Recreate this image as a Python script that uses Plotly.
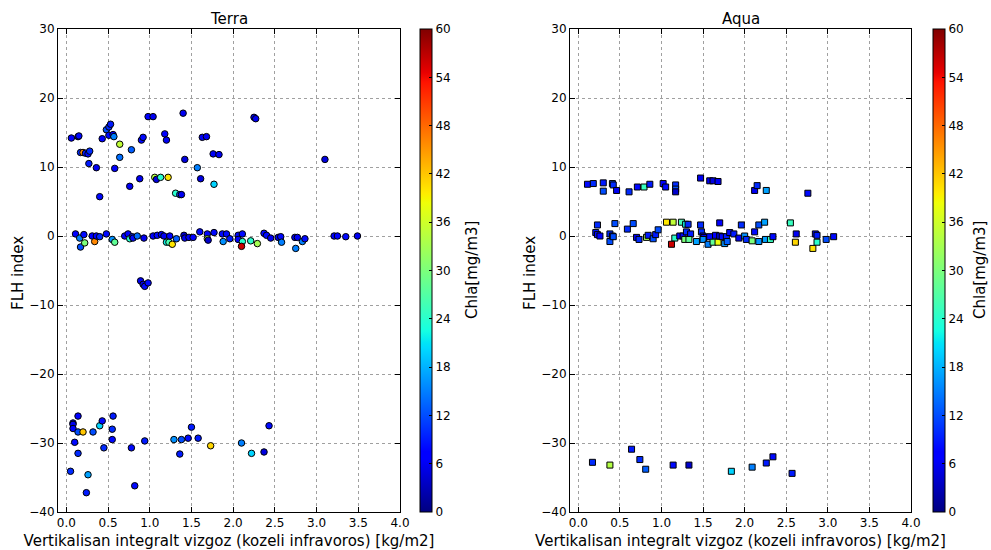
import plotly.graph_objects as go
import numpy as np

# ---------------- data ----------------
terra_x = [0.06,0.14,0.15,0.17,0.20,0.23,0.26,0.28,0.27,0.36,0.40,0.43,0.48,0.51,0.53,0.51,0.56,0.57,0.58,0.64,0.64,0.78,0.76,0.88,0.90,0.92,0.98,1.04,1.06,1.08,1.13,1.22,1.18,1.20,1.31,1.36,1.38,1.40,1.42,1.57,1.61,1.63,1.68,1.76,1.83,1.77,2.25,2.27,3.10,
           0.11,0.16,0.17,0.21,0.22,0.31,0.34,0.36,0.40,0.48,0.55,0.58,0.70,0.74,0.76,0.79,0.80,0.85,0.93,1.04,1.09,1.14,1.17,1.20,1.23,1.27,1.24,1.32,1.41,1.42,1.47,1.52,1.60,1.69,1.69,1.70,1.77,1.87,1.92,1.88,1.96,2.06,2.06,2.11,2.11,2.10,2.21,2.29,2.37,2.40,2.45,2.54,2.57,2.58,2.74,2.77,2.75,2.83,2.86,3.21,3.25,3.35,3.49,
           0.89,0.92,0.94,0.98,
           0.14,0.08,0.08,0.08,0.14,0.20,0.32,0.40,0.43,0.10,0.14,0.45,0.05,0.26,0.24,0.56,0.55,0.55,0.78,0.82,0.94,1.29,1.38,1.36,1.46,1.50,1.58,1.73,2.10,2.22,2.37,2.43]
terra_y = [14.2,14.4,14.5,12.1,12.1,12.0,11.9,12.3,10.5,9.9,5.7,14.1,15.4,15.8,16.2,14.6,14.7,14.4,9.8,13.3,11.4,12.5,7.2,8.3,13.9,14.3,17.3,17.3,8.5,8.2,8.5,8.5,14.8,13.9,6.2,6.0,6.0,17.8,11.1,9.9,8.3,14.3,14.4,11.9,11.8,7.5,17.2,17.0,11.1,
           0.3,-0.3,-1.6,0.2,-1.0,0.0,-0.8,0.0,-0.1,0.3,-0.5,-0.9,0.0,0.3,-0.4,-0.1,-0.3,0.0,-0.3,0.0,0.1,0.2,0.0,-0.9,-0.9,-1.2,0.0,-0.4,0.1,-0.3,-0.2,-0.2,0.6,0.3,-0.4,-0.6,0.5,0.3,0.3,-0.8,-0.4,0.1,-0.5,0.3,-0.8,-1.5,-0.7,-1.1,0.4,0.1,-0.3,-0.2,-0.1,-0.9,-0.2,-0.2,-1.8,-0.8,-0.4,0.0,0.0,-0.1,0.0,
           -6.5,-7.0,-7.3,-6.8,
           -26.1,-27.1,-27.3,-27.9,-28.4,-28.4,-28.4,-27.5,-26.8,-29.9,-31.5,-30.7,-34.1,-34.6,-37.2,-26.1,-28.0,-29.5,-30.7,-36.2,-29.7,-29.5,-29.5,-31.6,-29.3,-27.7,-29.3,-30.4,-30.0,-31.5,-31.3,-27.5]
terra_c = [7,6,8,10,46,9,8,10,9,6,8,7,12,10,9,8,7,15,7,35,14,13,6,6,8,8,7,6,34,5,24,40,7,6,24,12,6,6,5,15,5,6,6,6,6,20,6,6,5,
           7,15,12,8,30,7,46,7,10,8,16,28,7,7,24,10,8,14,6,7,8,7,6,22,26,40,7,13,4,6,6,7,8,8,33,4,8,8,8,16,9,8,7,8,24,56,24,33,8,8,6,6,8,15,6,6,15,15,8,7,7,8,6,
           6,5,8,8,
           7,4,6,7,12,42,12,20,8,8,10,10,10,17,9,9,10,8,8,8,9,16,12,9,8,9,9,41,15,20,5,8]

aqua_x = [0.11,0.18,0.30,0.30,0.41,0.42,0.46,0.61,0.71,0.79,0.86,1.02,1.05,1.17,1.17,1.17,1.47,1.58,1.62,1.68,2.12,2.15,2.26,2.76,
          0.23,0.44,0.21,0.23,0.26,0.38,0.38,0.41,0.42,0.59,0.66,0.70,0.73,0.82,0.84,0.90,0.93,0.96,1.06,1.14,1.16,1.12,1.24,1.29,1.32,1.22,1.26,1.30,1.35,1.28,1.33,1.42,1.47,1.48,1.50,1.51,1.50,1.56,1.58,1.62,1.68,1.65,1.70,1.73,1.78,1.76,1.79,1.70,1.82,1.87,1.93,1.96,2.00,2.02,2.09,2.12,2.17,2.17,2.24,2.25,2.31,2.34,2.55,2.62,2.61,2.82,2.85,2.87,2.87,2.98,3.07,
          0.17,0.38,0.64,0.74,0.81,1.14,1.33,1.84,2.09,2.26,2.34,2.57]
aqua_y = [7.5,7.6,6.5,7.7,7.6,7.4,6.6,6.4,7.1,7.1,7.5,7.6,7.1,7.4,6.8,6.4,8.4,8.0,8.0,7.9,6.6,7.3,6.6,6.2,
          1.6,1.8,0.5,0.2,0.0,0.3,-0.8,0.0,-0.1,1.0,1.8,-0.2,-0.5,-0.2,0.1,-0.4,0.2,0.9,2.0,2.0,-0.3,-1.2,2.0,1.7,1.7,0.0,0.0,0.6,0.3,-0.5,-0.5,-0.8,1.6,0.6,0.0,-0.2,-0.5,-1.2,-0.1,-0.9,-0.9,0.1,0.0,-0.1,-0.1,-1.1,-0.8,1.9,0.5,0.3,-0.3,1.6,0.0,-0.5,-0.7,0.6,-0.8,1.6,2.0,-0.5,-0.5,-0.1,1.9,0.3,-0.9,-1.8,0.3,0.1,-0.9,-0.5,-0.1,
          -32.8,-33.2,-30.9,-32.4,-33.8,-33.2,-33.2,-34.1,-33.5,-32.9,-32.0,-34.4]
aqua_c = [8,10,12,9,12,10,6,10,8,25,9,7,8,10,12,4,6,6,5,6,6,10,17,8,
          10,12,9,8,7,10,12,9,12,10,12,6,10,33,9,12,9,12,40,35,24,56,26,22,10,7,8,10,9,30,28,17,10,10,8,7,16,15,8,28,38,7,6,8,9,16,13,7,8,9,6,10,16,10,30,8,16,12,17,17,25,8,25,6,41,40,8,9,24,12,8,
          10,34,9,10,13,8,4,20,15,9,8,9]

x_ticks = [0.0,0.5,1.0,1.5,2.0,2.5,3.0,3.5,4.0]
y_ticks = [-40,-30,-20,-10,0,10,20,30]
cb_ticks = [0,6,12,18,24,30,36,42,48,54,60]
titles = ["Terra", "Aqua"]
xlabel = "Vertikalisan integralt vizgoz (kozeli infravoros) [kg/m2]"
ylabel = "FLH index"
cblabel = "Chla[mg/m3]"

# matplotlib-like jet colorscale
def _seg(pts, t):
    xs = [p[0] for p in pts]; vs = [p[1] for p in pts]
    return float(np.interp(t, xs, vs))
r_pts = [(0,0),(0.35,0),(0.66,1),(0.89,1),(1,0.5)]
g_pts = [(0,0),(0.125,0),(0.375,1),(0.64,1),(0.91,0),(1,0)]
b_pts = [(0,0.5),(0.11,1),(0.34,1),(0.65,0),(1,0)]
stops = sorted(set([0,0.11,0.125,0.34,0.35,0.375,0.64,0.65,0.66,0.89,0.91,1.0]))
jet = [[t, "rgb(%d,%d,%d)" % (round(255*_seg(r_pts,t)), round(255*_seg(g_pts,t)), round(255*_seg(b_pts,t)))] for t in stops]

W, H = 991, 550
def fx(p): return p / W
def fy(p): return 1 - p / H

FONT = "DejaVu Sans"
fig = go.Figure()

fig.add_trace(go.Scatter(x=terra_x, y=terra_y, mode="markers", xaxis="x", yaxis="y",
    marker=dict(symbol="circle", size=6.5, color=terra_c, coloraxis="coloraxis",
                line=dict(color="black", width=1)), showlegend=False))
fig.add_trace(go.Scatter(x=aqua_x, y=aqua_y, mode="markers", xaxis="x2", yaxis="y2",
    marker=dict(symbol="square", size=6, color=aqua_c, coloraxis="coloraxis2",
                line=dict(color="black", width=1)), showlegend=False))

axis_common = dict(showline=True, linecolor="black", linewidth=1, mirror="allticks",
                   ticks="inside", ticklen=5, tickcolor="black", showgrid=True,
                   gridcolor="#a0a0a0", griddash="dot", gridwidth=1, zeroline=False,
                   automargin=False,
                   tickfont=dict(family=FONT, size=12, color="black"))

def cbar(xpix):
    return dict(
        x=fx(xpix), xanchor="left", y=fy(29), yanchor="top", len=(512-29)/H, lenmode="fraction",
        thickness=12, thicknessmode="pixels", outlinecolor="black", outlinewidth=1,
        tickvals=cb_ticks, ticks="inside", ticklen=3, tickcolor="black", xpad=0, ypad=0,
        tickfont=dict(family=FONT, size=12, color="black"))

def ann(text, xpix, ypix, angle=0, size=15):
    return dict(text=text, x=fx(xpix), y=fy(ypix), xref="paper", yref="paper",
                xanchor="center", yanchor="middle", showarrow=False, textangle=angle,
                font=dict(family=FONT, size=size, color="black"))

fig.update_layout(
    width=W, height=H, margin=dict(l=0, r=0, t=0, b=0, autoexpand=False),
    paper_bgcolor="white", plot_bgcolor="white",
    font=dict(family=FONT, color="black"),
    xaxis=dict(domain=[fx(58), fx(400)], range=[-0.1, 4.0], tickvals=x_ticks, tickformat=".1f",
               anchor="y", title=dict(text=xlabel, font=dict(size=15), standoff=6), **axis_common),
    yaxis=dict(domain=[fy(512), fy(29)], range=[-40, 30], tickvals=y_ticks, anchor="x", **axis_common),
    xaxis2=dict(domain=[fx(570), fx(911)], range=[-0.1, 4.0], tickvals=x_ticks, tickformat=".1f",
                anchor="y2", title=dict(text=xlabel, font=dict(size=15), standoff=6), **axis_common),
    yaxis2=dict(domain=[fy(512), fy(29)], range=[-40, 30], tickvals=y_ticks, anchor="x2", **axis_common),
    coloraxis=dict(cmin=0, cmax=60, colorscale=jet, colorbar=cbar(420)),
    coloraxis2=dict(cmin=0, cmax=60, colorscale=jet, colorbar=cbar(933)),
    annotations=[
        ann(titles[0], (58+400)/2, 19),
        ann(titles[1], (570+911)/2, 19),
        ann(ylabel, 18, 273, angle=-90),
        ann(ylabel, 530, 273, angle=-90),
        ann(cblabel, 472, 270, angle=-90),
        ann(cblabel, 980, 270, angle=-90),
    ],
)

fig.write_html("out.html")
